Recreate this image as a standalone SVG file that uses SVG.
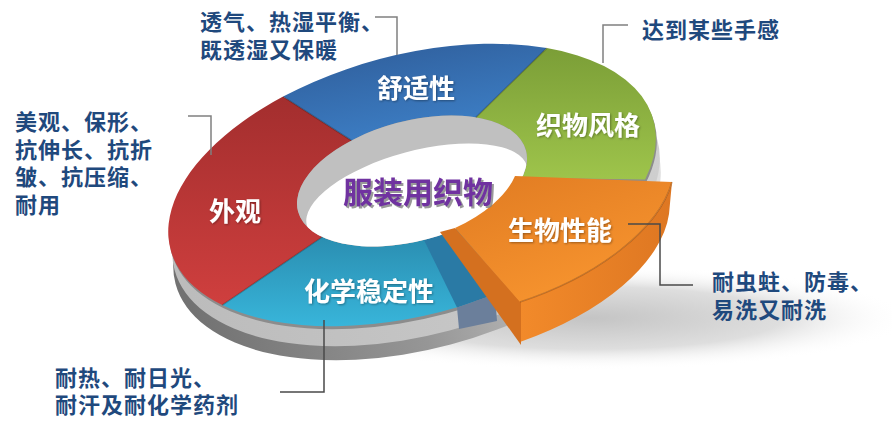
<svg xmlns="http://www.w3.org/2000/svg" width="892" height="431" viewBox="0 0 892 431">
<defs>
<style>
.ann{font-family:"Noto Sans CJK SC","Noto Sans CJK JP",sans-serif;font-weight:700;font-size:22px;fill:#1f497d;letter-spacing:1px}
.lbl{font-family:"Noto Sans CJK SC","Noto Sans CJK JP",sans-serif;font-weight:700;font-size:26px;fill:#ffffff;text-anchor:middle}
.lead{fill:none;stroke:#808080;stroke-width:1.5}
.leadD{fill:none;stroke:#4a4a4a;stroke-width:1.5}
.edge{fill:none;stroke:#000;stroke-opacity:0.22;stroke-width:1.5}
</style>
<linearGradient id="gRed" x1="0" y1="0" x2="0" y2="1"><stop offset="0" stop-color="#a32e2e"/><stop offset="1" stop-color="#cf3f3e"/></linearGradient>
<linearGradient id="gBlue" x1="0" y1="0" x2="0.5" y2="1"><stop offset="0" stop-color="#2e5b97"/><stop offset="1" stop-color="#3d7fc6"/></linearGradient>
<linearGradient id="gGreen" x1="0" y1="0" x2="0" y2="1"><stop offset="0" stop-color="#7b9e37"/><stop offset="1" stop-color="#9ec44b"/></linearGradient>
<linearGradient id="gCyan" x1="0" y1="0" x2="0" y2="1"><stop offset="0" stop-color="#2a8db0"/><stop offset="1" stop-color="#38b5da"/></linearGradient>
<linearGradient id="gOrange" x1="0" y1="0" x2="0.6" y2="1"><stop offset="0" stop-color="#e07b22"/><stop offset="1" stop-color="#f8952f"/></linearGradient>
<linearGradient id="gOrangeWall" x1="0" y1="0" x2="1" y2="0"><stop offset="0" stop-color="#f28a2a"/><stop offset="1" stop-color="#de7722"/></linearGradient>
<linearGradient id="gWallDark" gradientUnits="userSpaceOnUse" x1="170" y1="0" x2="720" y2="0"><stop offset="0" stop-color="#727272"/><stop offset="0.4" stop-color="#969696"/><stop offset="0.75" stop-color="#cdcdcd"/><stop offset="1" stop-color="#ededed"/></linearGradient>
<linearGradient id="gWallLight" gradientUnits="userSpaceOnUse" x1="170" y1="0" x2="700" y2="0"><stop offset="0" stop-color="#bcbcbc"/><stop offset="1" stop-color="#d0d0d0"/></linearGradient>
<radialGradient id="gFloor" cx="0.5" cy="0.5" r="0.5"><stop offset="0" stop-color="#c4c4c4"/><stop offset="0.6" stop-color="#dedede"/><stop offset="1" stop-color="#ffffff" stop-opacity="0"/></radialGradient>
<clipPath id="holeClip"><ellipse cx="412" cy="181" rx="118" ry="60" transform="rotate(-15 412 181)"/></clipPath>
<filter id="ts" x="-10%" y="-20%" width="130%" height="150%"><feDropShadow dx="1" dy="1" stdDeviation="0.8" flood-color="#000" flood-opacity="0.35"/></filter>
<filter id="cs" x="-10%" y="-20%" width="130%" height="150%"><feDropShadow dx="2" dy="2" stdDeviation="0.6" flood-color="#808080" flood-opacity="0.8"/></filter>
</defs>
<rect width="892" height="431" fill="#ffffff"/>

<g id="base">
<ellipse cx="590" cy="318" rx="320" ry="52" fill="url(#gFloor)"/>
<ellipse cx="412" cy="185" rx="250" ry="130" transform="translate(5 34) rotate(-15 412 185)" fill="url(#gWallDark)"/>
<ellipse cx="412" cy="185" rx="250" ry="130" transform="translate(4 20) rotate(-15 412 185)" fill="url(#gWallLight)"/>
<ellipse cx="412" cy="185" rx="250" ry="130" transform="translate(1 3) rotate(-15 412 185)" fill="#8c8c8c"/>
</g>

<g id="seg-red"><path d="M222.3 305.1 A250 130 -15 0 1 283.1 96.6 L351.5 140.5 A118 60 -15 0 0 322.3 237 Z" fill="url(#gRed)"/></g>
<g id="seg-blue"><path d="M283.1 96.6 A250 130 -15 0 1 546.8 48.1 L475.9 117.4 A118 60 -15 0 0 351.5 140.5 Z" fill="url(#gBlue)"/></g>
<g id="seg-green"><path d="M546.8 48.1 A250 130 -15 0 1 645.1 179.5 L521.9 177.8 A118 60 -15 0 0 475.9 117.4 Z" fill="url(#gGreen)"/></g>
<g id="seg-cyan">
<path d="M474.8 301.7 A250 130 -15 0 1 222.3 305.1 L322.3 237 A118 60 -15 0 0 441.3 234.8 Z" fill="url(#gCyan)"/>
<path d="M424 240 L457 307.5 L495 294.3 L470 224 Z" fill="#2a7aa5"/>
<path d="M457 307.5 L495 294.3 L497 321 L459 329 Z" fill="#6b7f9b"/>
</g>

<g id="hole">
<ellipse cx="412" cy="181" rx="118" ry="60" transform="rotate(-15 412 181)" fill="#c0c0c0"/>
<g clip-path="url(#holeClip)"><ellipse cx="417" cy="196" rx="114" ry="45" transform="rotate(-15 417 196)" fill="#ffffff"/></g>
</g>

<g id="connectors">
<path class="edge" d="M283.1 96.6 L351.5 140.5"/>
<path class="edge" d="M546.8 48.1 L475.9 117.4"/>
<path class="edge" d="M222.3 305.1 L322.3 237"/>
</g>

<g id="seg-orange">
<path d="M672 182 A210 110 -15 0 1 520 302 L520 342 A210 110 -15 0 0 669 214 Z" fill="url(#gOrangeWall)"/>
<path d="M440 232 L455 228 L521 302 L521 345 Z" fill="#d4701f"/>
<path d="M515 176 L672 182 A210 110 -15 0 1 520 302 L455 228 A118 60 -15 0 0 515 176 Z" fill="url(#gOrange)"/>
<path d="M672 182 A210 110 -15 0 1 520 302" fill="none" stroke="#9a5010" stroke-opacity="0.5" stroke-width="1.5"/>
</g>

<g id="labels">
<text class="lbl" x="416" y="98" filter="url(#ts)">舒适性</text>
<text class="lbl" x="588" y="135" filter="url(#ts)">织物风格</text>
<text class="lbl" x="235" y="221" filter="url(#ts)">外观</text>
<text class="lbl" x="369" y="301" filter="url(#ts)">化学稳定性</text>
<text class="lbl" x="560" y="240" filter="url(#ts)">生物性能</text>
</g>

<g id="center">
<text x="418" y="203" font-family="Noto Sans CJK SC, sans-serif" font-weight="700" font-size="30" fill="#7030a0" text-anchor="middle" filter="url(#cs)">服装用织物</text>
</g>

<g id="leaders">
<path class="lead" d="M375 17 H397 V55"/>
<path class="lead" d="M628 25 H603 V63"/>
<path class="lead" d="M188 116 H211 V155"/>
<path class="leadD" d="M324 320 V392 H280"/>
<path class="leadD" d="M628 224 H660 V285 H693"/>
</g>

<g id="ann-comfort"><text class="ann" x="200" y="30">透气、热湿平衡、<tspan x="200" dy="28">既透湿又保暖</tspan></text></g>
<g id="ann-style"><text class="ann" x="642" y="38">达到某些手感</text></g>
<g id="ann-look"><text class="ann" x="15" y="130">美观、保形、<tspan x="15" dy="27.7">抗伸长、抗折</tspan><tspan x="15" dy="27.7">皱、抗压缩、</tspan><tspan x="15" dy="27.7">耐用</tspan></text></g>
<g id="ann-chem"><text class="ann" x="55" y="386">耐热、耐日光、<tspan x="55" dy="27">耐汗及耐化学药剂</tspan></text></g>
<g id="ann-bio"><text class="ann" x="712" y="290">耐虫蛀、防毒、<tspan x="712" dy="28">易洗又耐洗</tspan></text></g>
</svg>
